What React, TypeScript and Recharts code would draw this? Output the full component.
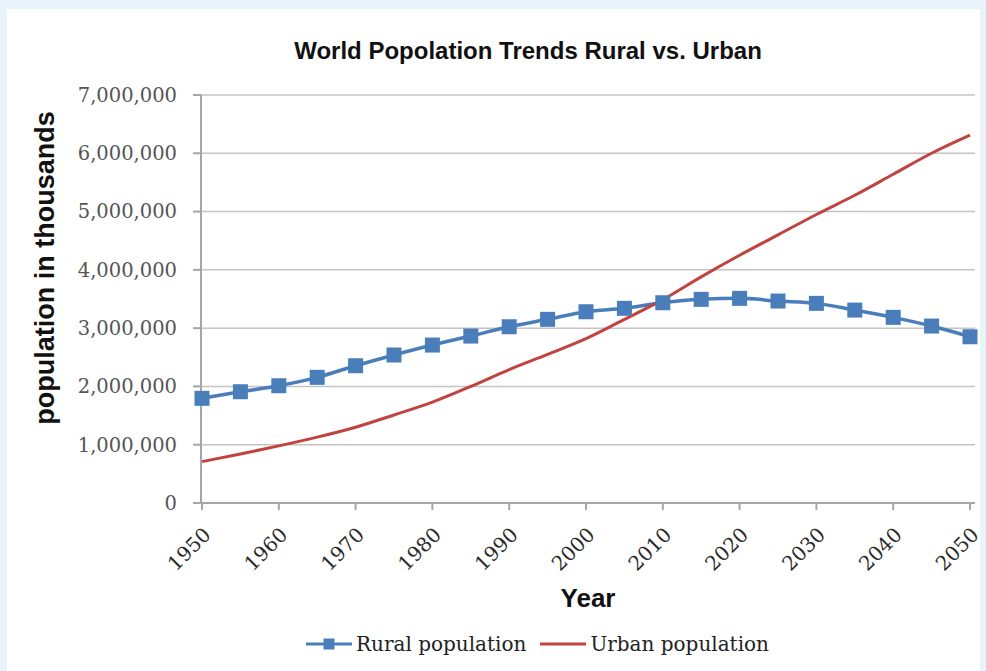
import { CartesianGrid, Legend, Line, LineChart, XAxis, YAxis } from "recharts";

const years = [
  1950, 1955, 1960, 1965, 1970, 1975, 1980, 1985, 1990, 1995, 2000,
  2005, 2010, 2015, 2020, 2025, 2030, 2035, 2040, 2045, 2050,
];
const ruralPopulation = [
  1796000, 1909000, 2012000, 2156000, 2355000, 2539000, 2710000, 2864000,
  3024000, 3151000, 3281000, 3340000, 3436000, 3494000, 3511000, 3465000,
  3425000, 3310000, 3185000, 3036000, 2852000,
];
const urbanPopulation = [
  710000, 840000, 980000, 1130000, 1300000, 1510000, 1730000, 2000000,
  2290000, 2550000, 2820000, 3150000, 3490000, 3880000, 4250000, 4600000,
  4950000, 5280000, 5640000, 6000000, 6310000,
];
const yearTicks = [1950, 1960, 1970, 1980, 1990, 2000, 2010, 2020, 2030, 2040, 2050];
const valueTicks = [0, 1000000, 2000000, 3000000, 4000000, 5000000, 6000000, 7000000];

const data = years.map((year, i) => ({
  year,
  rural: ruralPopulation[i],
  urban: urbanPopulation[i],
}));

const SERIF = "'DejaVu Serif', 'Liberation Serif', serif";
const SANS = "'Liberation Sans', Arial, sans-serif";
const BLUE = "#4a7ebb";
const RED = "#c0433f";
const AXIS = "#a6a6a6";

const SquareDot = (props: any) => {
  const { cx, cy, index } = props;
  if (cx == null || cy == null) return null;
  return <rect key={`sq-${index}`} x={cx - 7.5} y={cy - 7.5} width={15} height={15} fill={BLUE} />;
};

const YearTick = (props: any) => {
  const { x, y, payload } = props;
  const tx = x + 10;
  const ty = y + 24;
  return (
    <text
      x={tx}
      y={ty}
      textAnchor="end"
      transform={`rotate(-45 ${tx} ${ty})`}
      fontFamily={SERIF}
      fontSize={20}
      fill="#2a2a2a"
    >
      {payload.value}
    </text>
  );
};

const LegendContent = (props: any) => {
  const { payload } = props;
  return (
    <div style={{ display: "flex", alignItems: "center", paddingLeft: 306 }}>
      {(payload || []).map((entry: any) => (
        <div key={entry.value} style={{ display: "flex", alignItems: "center", marginRight: 14 }}>
          <svg width={48} height={16}>
            <line x1={0} y1={8} x2={46} y2={8} stroke={entry.color} strokeWidth={3} />
            {entry.dataKey === "rural" && <rect x={17.5} y={2.5} width={11} height={11} fill={entry.color} />}
          </svg>
          <span style={{ fontFamily: SERIF, fontSize: 20, color: "#222", marginLeft: 2 }}>{entry.value}</span>
        </div>
      ))}
    </div>
  );
};

const App = () => {
  return (
    <div style={{ position: "absolute", left: 0, top: 0, width: 986, height: 671, background: "#e7f4fb", overflow: "hidden" }}>
      <div style={{ position: "absolute", left: 7, top: 9, width: 973, height: 662, background: "#fff" }} />
      <div
        style={{
          position: "absolute",
          left: 0,
          width: 1056,
          top: 38.5,
          textAlign: "center",
          fontFamily: SANS,
          fontWeight: "bold",
          fontSize: 24,
          lineHeight: 1,
          color: "#111",
        }}
      >
        World Popolation Trends Rural vs. Urban
      </div>
      <div style={{ position: "absolute", left: 0, top: 0 }}>
        <LineChart width={986} height={671} data={data} margin={{ top: 95, right: 11, bottom: 0, left: 0 }}>
          <CartesianGrid vertical={false} stroke="#c4c4c4" strokeWidth={1.5} />
          <XAxis
            dataKey="year"
            type="number"
            domain={[1950, 2050]}
            ticks={yearTicks}
            interval={0}
            height={168}
            padding={{ left: 1, right: 5 }}
            stroke={AXIS}
            strokeWidth={2}
            tickSize={7}
            tick={<YearTick />}
            label={{
              content: (p: any) => {
                const vb = p.viewBox;
                return (
                  <text
                    x={vb.x + vb.width / 2}
                    y={607}
                    textAnchor="middle"
                    fontFamily={SANS}
                    fontWeight="bold"
                    fontSize={26}
                    fill="#111"
                  >
                    Year
                  </text>
                );
              },
            }}
          />
          <YAxis
            type="number"
            domain={[0, 7000000]}
            ticks={valueTicks}
            interval={0}
            width={201}
            stroke={AXIS}
            strokeWidth={2}
            tickSize={8}
            tickMargin={16}
            tick={{ fontFamily: SERIF, fontSize: 19.5, fill: "#555" }}
            tickFormatter={(v) => Number(v).toLocaleString("en-US")}
            label={{
              content: () => (
                <text
                  x={54}
                  y={268}
                  textAnchor="middle"
                  transform="rotate(-90 54 268)"
                  fontFamily={SANS}
                  fontWeight="bold"
                  fontSize={27}
                  fill="#111"
                >
                  population in thousands
                </text>
              ),
            }}
          />
          <Legend
            layout="horizontal"
            verticalAlign="middle"
            align="center"
            wrapperStyle={{ top: 632, left: 0, width: 986 }}
            content={<LegendContent />}
          />
          <Line
            name="Rural population"
            dataKey="rural"
            type="monotone"
            stroke={BLUE}
            strokeWidth={3.5}
            dot={SquareDot}
            activeDot={false}
            isAnimationActive={false}
          />
          <Line
            name="Urban population"
            dataKey="urban"
            type="monotone"
            stroke={RED}
            strokeWidth={3}
            dot={false}
            activeDot={false}
            isAnimationActive={false}
          />
        </LineChart>
      </div>
    </div>
  );
};

export default App;
